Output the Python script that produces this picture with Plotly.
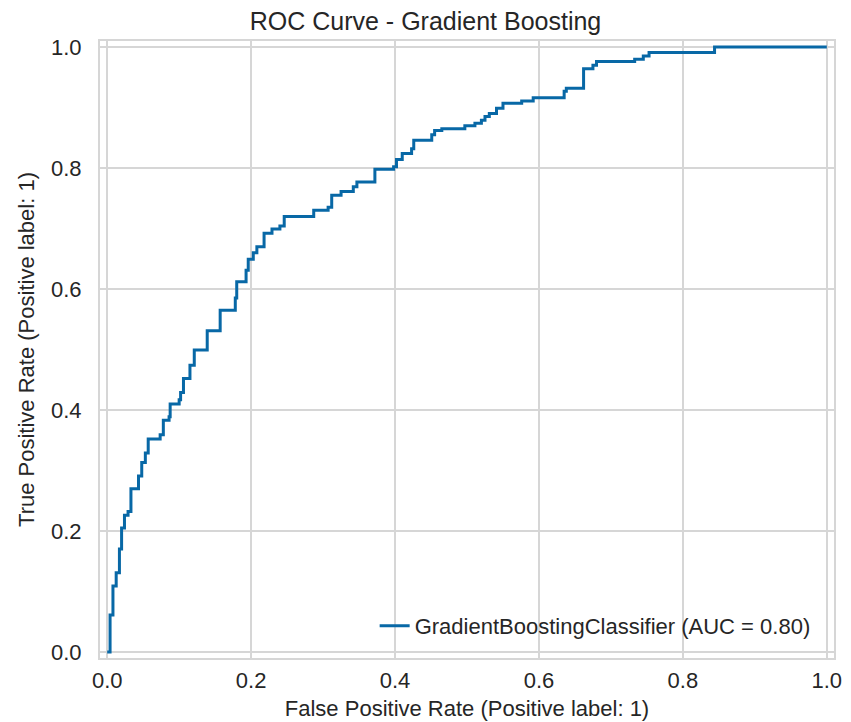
import plotly.graph_objects as go

fpr = [0, 0.004, 0.004, 0.008, 0.008, 0.0125, 0.0125, 0.017, 0.017, 0.020, 0.020, 0.024, 0.024,
       0.029, 0.029, 0.033, 0.033, 0.0435, 0.0435, 0.048, 0.048, 0.053, 0.053, 0.057, 0.057,
       0.0736, 0.0736, 0.078, 0.078, 0.086, 0.086, 0.0875, 0.0875, 0.1, 0.1, 0.102, 0.102,
       0.106, 0.106, 0.109, 0.109, 0.115, 0.115, 0.121, 0.121, 0.139, 0.139, 0.157, 0.157,
       0.178, 0.178, 0.18, 0.18, 0.193, 0.193, 0.196, 0.196, 0.203, 0.203, 0.208, 0.208,
       0.218, 0.218, 0.229, 0.229, 0.24, 0.24, 0.246, 0.246, 0.287, 0.287, 0.307, 0.307,
       0.312, 0.312, 0.325, 0.325, 0.342, 0.342, 0.347, 0.347, 0.372, 0.372, 0.398, 0.398,
       0.402, 0.402, 0.41, 0.41, 0.423, 0.423, 0.426, 0.426, 0.451, 0.451, 0.455, 0.455,
       0.465, 0.465, 0.497, 0.497, 0.511, 0.511, 0.52, 0.52, 0.525, 0.525, 0.531, 0.531,
       0.541, 0.541, 0.55, 0.55, 0.576, 0.576, 0.592, 0.592, 0.635, 0.635, 0.638, 0.638,
       0.662, 0.662, 0.675, 0.675, 0.68, 0.68, 0.733, 0.733, 0.745, 0.745, 0.753, 0.753,
       0.844, 0.844, 1.0]
tpr = [0, 0, 0.061, 0.061, 0.109, 0.109, 0.131, 0.131, 0.170, 0.170, 0.205, 0.205, 0.226,
       0.226, 0.232, 0.232, 0.270, 0.270, 0.291, 0.291, 0.313, 0.313, 0.329, 0.329, 0.352,
       0.352, 0.359, 0.359, 0.383, 0.383, 0.389, 0.389, 0.41, 0.41, 0.417, 0.417, 0.429,
       0.429, 0.452, 0.452, 0.452, 0.452, 0.474, 0.474, 0.499, 0.499, 0.531, 0.531, 0.565,
       0.565, 0.585, 0.585, 0.612, 0.612, 0.631, 0.631, 0.649, 0.649, 0.66, 0.66, 0.67,
       0.67, 0.692, 0.692, 0.699, 0.699, 0.704, 0.704, 0.72, 0.72, 0.73, 0.73, 0.735,
       0.735, 0.755, 0.755, 0.761, 0.761, 0.769, 0.769, 0.777, 0.777, 0.798, 0.798, 0.802,
       0.802, 0.814, 0.814, 0.824, 0.824, 0.832, 0.832, 0.846, 0.846, 0.855, 0.855, 0.862,
       0.862, 0.865, 0.865, 0.87, 0.87, 0.874, 0.874, 0.879, 0.879, 0.885, 0.885, 0.89,
       0.89, 0.899, 0.899, 0.907, 0.907, 0.911, 0.911, 0.916, 0.916, 0.927, 0.927, 0.932,
       0.932, 0.964, 0.964, 0.97, 0.97, 0.976, 0.976, 0.98, 0.98, 0.985, 0.985, 0.991,
       0.991, 1.0, 1.0]

tick_vals = [0.0, 0.2, 0.4, 0.6, 0.8, 1.0]
tick_text = ["0.0", "0.2", "0.4", "0.6", "0.8", "1.0"]
series_name = "GradientBoostingClassifier (AUC = 0.80)"

FONT = "Liberation Sans, Arial, sans-serif"
GRID = "#d6d6d6"
TXT = "#262626"

fig = go.Figure()
fig.add_trace(go.Scatter(x=fpr, y=tpr, mode="lines", name=series_name,
                         line=dict(color="#0868a6", width=3)))

axis_common = dict(
    tickvals=tick_vals, ticktext=tick_text, range=[-0.01, 1.01],
    showgrid=True, gridcolor=GRID, gridwidth=1.6,
    showline=True, linecolor=GRID, linewidth=2, mirror=True,
    zeroline=False, ticks="", automargin=False,
    tickfont=dict(size=22, color=TXT, family=FONT),
)
fig.update_layout(
    width=851, height=722,
    margin=dict(l=100, r=17, t=41, b=64),
    paper_bgcolor="white", plot_bgcolor="white",
    font=dict(family=FONT, color=TXT),
    title=dict(text="ROC Curve - Gradient Boosting", x=0.5, xanchor="center",
               y=0.971, yanchor="middle", font=dict(size=25, color=TXT, family=FONT)),
    xaxis=dict(**axis_common, title=dict(text="False Positive Rate (Positive label: 1)",
                                         font=dict(size=22), standoff=8),
               ticklabelstandoff=2),
    yaxis=dict(**axis_common, title=dict(text="True Positive Rate (Positive label: 1)",
                                         font=dict(size=22), standoff=10),
               ticklabelstandoff=12),
    legend=dict(x=0.975, xanchor="right", y=0.018, yanchor="bottom",
                bgcolor="rgba(0,0,0,0)", font=dict(size=22, color=TXT, family=FONT)),
    showlegend=True,
)
fig.write_html("out.html")
